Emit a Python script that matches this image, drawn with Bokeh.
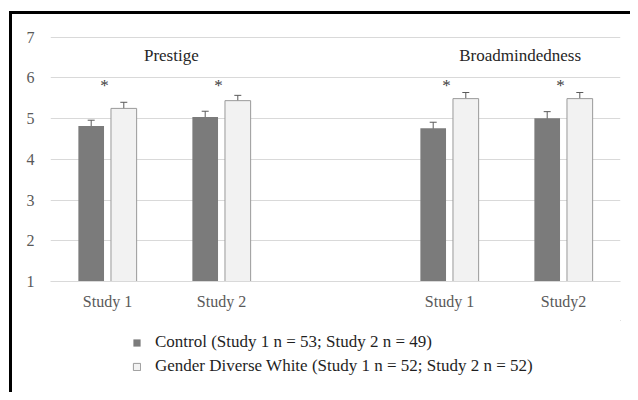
import numpy as np
from bokeh.plotting import figure
from bokeh.layouts import column
from bokeh.models import (ColumnDataSource, Range1d, FixedTicker, Whisker, TeeHead,
                          Legend, LegendItem)
from bokeh.core.properties import value
from bokeh.embed import file_html
from bokeh.resources import INLINE

# ---- data ----
categories = ["Study 1", "Study 2", "Study 1", "Study2"]
groups = [0, 0, 1, 1]                      # 0 = Prestige, 1 = Broadmindedness
group_titles = ["Prestige", "Broadmindedness"]
control = [4.82, 5.04, 4.76, 5.01]
control_err = [0.14, 0.14, 0.15, 0.16]
diverse = [5.25, 5.44, 5.49, 5.49]
diverse_err = [0.15, 0.13, 0.15, 0.15]
significant = [True, True, True, True]
y_ticks = [1, 2, 3, 4, 5, 6, 7]
legend_labels = ["Control (Study 1 n = 53; Study 2 n = 49)",
                 "Gender Diverse White (Study 1 n = 52; Study 2 n = 52)"]

# ---- styling constants ----
SERIF = "Liberation Serif"
DARK = "#7b7b7b"
LIGHT = "#f2f2f2"
LIGHT_LINE = "#9a9a9a"
ERR = "#5a5a5a"
GRID = "#d9d9d9"
OFF = 0.143
BAR_W = 0.225
STAR_Y = 5.82
TITLE_Y = 6.54
TITLE_SHIFT = [0.06, 0.12]

pos = np.array([i + g + 1 for i, g in enumerate(groups)], dtype=float)
ctrl = np.array(control)
div = np.array(diverse)
ce = np.array(control_err)
de = np.array(diverse_err)

p = figure(width=630, height=320, output_backend="svg", toolbar_location=None,
           x_range=Range1d(0.5, 5.5), y_range=Range1d(1, 7.015),
           min_border_left=50, min_border_right=10, min_border_top=36,
           min_border_bottom=39)
p.background_fill_color = None
p.border_fill_color = None
p.outline_line_color = None

src_c = ColumnDataSource(dict(x=pos - OFF, top=ctrl, lo=ctrl - ce, hi=ctrl + ce))
src_d = ColumnDataSource(dict(x=pos + OFF, top=div, lo=div - de, hi=div + de))

p.vbar(x="x", top="top", bottom=1, width=BAR_W, source=src_c,
       fill_color=DARK, line_color=None)
p.vbar(x="x", top="top", bottom=1, width=BAR_W, source=src_d,
       fill_color=LIGHT, line_color=LIGHT_LINE, line_width=1)

for src in (src_c, src_d):
    w = Whisker(base="x", lower="lo", upper="hi", source=src,
                line_color=ERR, line_width=1,
                upper_head=TeeHead(size=7, line_color=ERR, line_width=1),
                lower_head=TeeHead(size=7, line_color=ERR, line_width=1))
    p.add_layout(w)

# significance stars
sig_x = [x - 0.026 for x, s in zip(pos, significant) if s]
p.text(x=sig_x, y=[STAR_Y] * len(sig_x), text=["*"] * len(sig_x),
       text_font=value(SERIF), text_font_size="17px", text_color="#404040",
       text_align="center", text_baseline="alphabetic")

# group titles
tx = []
for g in range(len(group_titles)):
    gp = [x for x, gg in zip(pos, groups) if gg == g]
    tx.append(float(np.mean(gp)) + TITLE_SHIFT[g])
p.text(x=tx, y=[TITLE_Y] * len(tx), text=group_titles,
       text_font=value(SERIF), text_font_size="17px", text_color="#262626",
       text_align="center", text_baseline="alphabetic")

# axes
p.xgrid.grid_line_color = None
p.ygrid.grid_line_color = GRID
p.ygrid.ticker = FixedTicker(ticks=y_ticks)
p.yaxis.ticker = FixedTicker(ticks=y_ticks)
p.yaxis.axis_line_color = None
p.yaxis.major_tick_line_color = None
p.yaxis.minor_tick_line_color = None
p.yaxis.major_tick_out = 0
p.yaxis.major_label_standoff = 16
p.yaxis.major_label_text_font = SERIF
p.yaxis.major_label_text_font_size = "16px"
p.yaxis.major_label_text_color = "#595959"

p.xaxis.ticker = FixedTicker(ticks=list(pos))
p.xaxis.major_label_overrides = {float(x): c for x, c in zip(pos, categories)}
p.xaxis.axis_line_color = GRID
p.xaxis.major_tick_line_color = None
p.xaxis.minor_tick_line_color = None
p.xaxis.major_tick_out = 0
p.xaxis.major_label_standoff = 11
p.xaxis.major_label_text_font = SERIF
p.xaxis.major_label_text_font_size = "16px"
p.xaxis.major_label_text_color = "#595959"

# ---- legend strip below the chart ----
q = figure(width=630, height=72, output_backend="svg", toolbar_location=None,
           x_range=Range1d(0, 1), y_range=Range1d(0, 1),
           x_axis_type=None, y_axis_type=None,
           min_border_left=0, min_border_right=0, min_border_top=0,
           min_border_bottom=0)
q.background_fill_color = None
q.border_fill_color = None
q.outline_line_color = None
q.grid.grid_line_color = None
# legend swatches (kept outside the visible range)
lc = q.vbar(x=[10], top=[10], bottom=9, width=0.1, fill_color=DARK, line_color=None)
ld = q.vbar(x=[10], top=[10], bottom=9, width=0.1, fill_color=LIGHT,
            line_color=LIGHT_LINE, line_width=1)
legend = Legend(items=[LegendItem(label=legend_labels[0], renderers=[lc]),
                       LegendItem(label=legend_labels[1], renderers=[ld])],
                location=(82, 16), orientation="vertical",
                border_line_color=None, background_fill_color=None,
                padding=0, margin=0, spacing=4,
                glyph_width=9, glyph_height=9, label_height=20,
                label_standoff=14,
                label_text_font=SERIF, label_text_font_size="17px",
                label_text_color="#1f1f1f")
q.add_layout(legend, "center")

page = column(p, q, spacing=0)
page.styles = {
    "background-image": "linear-gradient(#000,#000), linear-gradient(#000,#000)",
    "background-size": "3px 100%, 100% 3px",
    "background-position": "9px 11px, 9px 11px",
    "background-repeat": "no-repeat",
}

open("out.html", "w").write(file_html(page, INLINE))
